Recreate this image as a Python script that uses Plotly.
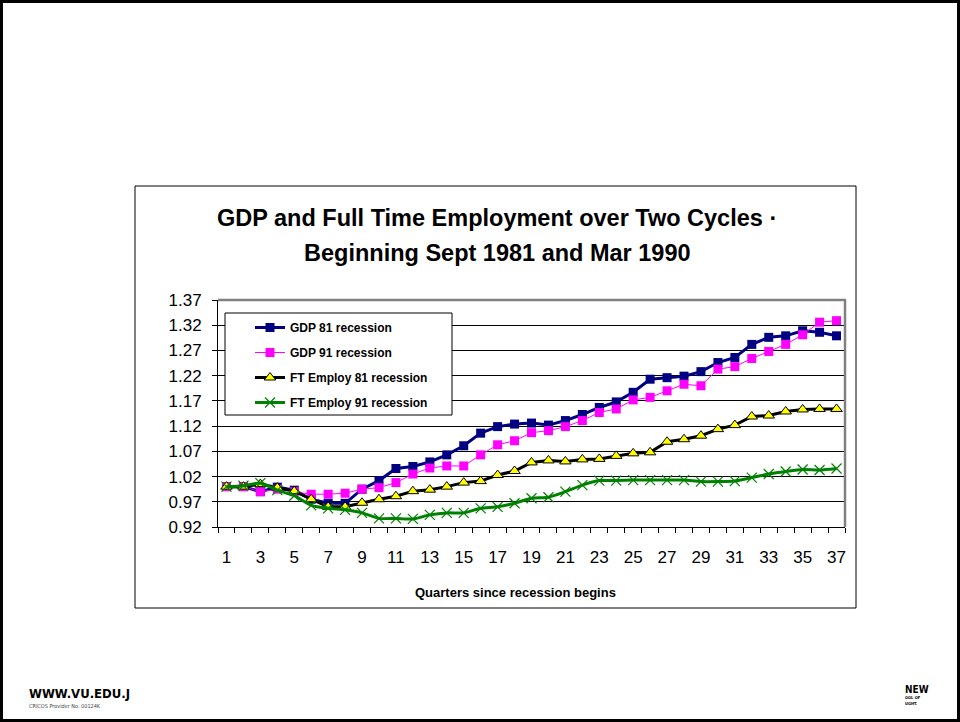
import plotly.graph_objects as go

quarters = list(range(1, 38))
gdp_81 = [1.000, 1.000, 0.990, 0.999, 0.993, 0.975, 0.967, 0.967, 0.995, 1.012,
          1.036, 1.040, 1.049, 1.063, 1.081, 1.106, 1.119, 1.124, 1.126, 1.122,
          1.131, 1.143, 1.157, 1.168, 1.187, 1.213, 1.216, 1.219, 1.228, 1.246,
          1.256, 1.282, 1.296, 1.299, 1.309, 1.306, 1.299]
gdp_91 = [1.000, 1.000, 0.990, 0.995, 0.990, 0.985, 0.985, 0.987, 0.995, 0.998,
          1.008, 1.025, 1.037, 1.041, 1.041, 1.063, 1.083, 1.091, 1.107, 1.111,
          1.119, 1.131, 1.147, 1.154, 1.172, 1.177, 1.190, 1.203, 1.200, 1.233,
          1.238, 1.254, 1.268, 1.282, 1.301, 1.326, 1.329]
ft_81 = [1.000, 1.000, 1.005, 0.998, 0.991, 0.975, 0.960, 0.960, 0.968, 0.975,
         0.981, 0.991, 0.994, 1.000, 1.008, 1.011, 1.023, 1.031, 1.048, 1.052,
         1.050, 1.054, 1.055, 1.061, 1.066, 1.068, 1.089, 1.094, 1.101, 1.114,
         1.122, 1.139, 1.141, 1.149, 1.153, 1.154, 1.154]
ft_91 = [1.000, 1.002, 1.007, 0.993, 0.982, 0.963, 0.957, 0.954, 0.948, 0.937,
         0.937, 0.936, 0.944, 0.948, 0.948, 0.957, 0.960, 0.967, 0.977, 0.979,
         0.990, 1.003, 1.012, 1.012, 1.013, 1.013, 1.013, 1.013, 1.010, 1.010,
         1.011, 1.018, 1.025, 1.030, 1.034, 1.033, 1.036]

x_labels = [str(q) if q % 2 == 1 else "" for q in quarters]
y_ticks = [0.92, 0.97, 1.02, 1.07, 1.12, 1.17, 1.22, 1.27, 1.32, 1.37]

W, H = 960, 722
FONT = "Liberation Sans, Arial, sans-serif"
NARROW = "Liberation Sans Narrow, DejaVu Sans Condensed, sans-serif"


def px(x):
    return x / W


def py_(y):
    return 1 - y / H


def note(text, x, y, size, xanchor="center", family=FONT, bold=True,
         color="black"):
    return dict(text=text, xref="paper", yref="paper", x=px(x), y=py_(y),
                xanchor=xanchor, yanchor="middle", showarrow=False,
                font=dict(size=size, family=family, color=color,
                          weight="bold" if bold else "normal"))


fig = go.Figure()
fig.add_trace(go.Scatter(
    x=quarters, y=gdp_81, name="GDP 81 recession", mode="lines+markers",
    line=dict(color="#000080", width=3),
    marker=dict(symbol="square", size=9, color="#000080"),
    legendgroup="a"))
fig.add_trace(go.Scatter(
    x=quarters, y=gdp_91, name="GDP 91 recession", mode="lines+markers",
    line=dict(color="#FF00FF", width=1),
    marker=dict(symbol="square", size=9, color="#FF00FF"),
    legendgroup="b"))
fig.add_trace(go.Scatter(
    x=quarters, y=ft_81, name="FT Employ 81 recession", mode="lines+markers",
    line=dict(color="black", width=3),
    marker=dict(symbol="triangle-up", size=10, color="#FFFF00",
                line=dict(color="black", width=1)),
    legendgroup="c"))
fig.add_trace(go.Scatter(
    x=quarters, y=ft_91, name="FT Employ 91 recession", mode="lines+markers",
    line=dict(color="#008000", width=3, shape="spline", smoothing=0.6),
    marker=dict(symbol="x-thin", size=10, color="#008000",
                line=dict(color="#008000", width=1.2)),
    legendgroup="d"))

fig.update_layout(
    template="none",
    width=W, height=H, autosize=False,
    margin=dict(l=0, r=0, t=0, b=0, pad=0),
    paper_bgcolor="white", plot_bgcolor="white",
    font=dict(family=FONT, color="black"),
    showlegend=True,
    legend=dict(x=px(250), y=py_(313), xanchor="left", yanchor="top",
                bgcolor="rgba(0,0,0,0)", borderwidth=0,
                font=dict(size=12, family=FONT, color="black", weight="bold"),
                tracegroupgap=6, traceorder="grouped"),
    xaxis=dict(domain=[px(218), px(845)], range=[0.5, 37.5],
               automargin=False,
               tickmode="array", tickvals=quarters, ticktext=x_labels,
               ticks="", showgrid=False, zeroline=False,
               showline=True, linecolor="black", linewidth=1,
               tickfont=dict(size=17), ticklabelstandoff=15,
               minor=dict(tick0=0.5, dtick=1, ticks="outside", ticklen=5,
                          tickcolor="black", showgrid=False)),
    yaxis=dict(domain=[py_(527), py_(300)], range=[0.92, 1.37],
               automargin=False,
               tickmode="array", tickvals=y_ticks,
               ticktext=["%.2f" % v for v in y_ticks],
               ticks="outside", ticklen=5, tickcolor="black",
               showgrid=True, gridcolor="black", gridwidth=1,
               zeroline=False, showline=True, linecolor="black", linewidth=1,
               tickfont=dict(size=17), ticklabelstandoff=7),
    shapes=[
        dict(type="rect", xref="paper", yref="paper",
             x0=px(1.5), x1=px(958.5), y0=py_(720.5), y1=py_(1.5),
             line=dict(color="black", width=3)),
        dict(type="rect", xref="paper", yref="paper",
             x0=px(135), x1=px(856), y0=py_(608), y1=py_(186),
             line=dict(color="black", width=1)),
        dict(type="line", xref="paper", yref="paper",
             x0=px(218), x1=px(846), y0=py_(300), y1=py_(300),
             line=dict(color="#808080", width=2.5)),
        dict(type="line", xref="paper", yref="paper",
             x0=px(845), x1=px(845), y0=py_(300), y1=py_(527),
             line=dict(color="#808080", width=2.5)),
        dict(type="rect", xref="paper", yref="paper",
             x0=px(225), x1=px(452), y0=py_(415), y1=py_(313),
             fillcolor="white", layer="above",
             line=dict(color="black", width=1)),
    ],
    annotations=[
        note("GDP and Full Time Employment over Two Cycles ·", 497, 218, 23.5),
        note("Beginning Sept 1981 and Mar 1990", 497, 253, 23.5),
        note("Quarters since recession begins", 515, 592, 13),
        note("WWW.VU.EDU.J", 27, 693, 13, xanchor="left", family=NARROW),
        note("CRICOS Provider No. 00124K", 27, 706, 5.5, xanchor="left",
             family=NARROW, bold=False, color="#444444"),
        note("NEW", 903, 689, 10, xanchor="left", family=NARROW),
        note("OOL OF", 903, 697, 4, xanchor="left", family=NARROW),
        note("UGHT.", 903, 703, 4, xanchor="left", family=NARROW),
    ],
)

fig.write_html("out.html",
               config={"responsive": False, "displayModeBar": False},
               post_script="document.body.style.margin='0';"
                           "document.body.style.padding='0';"
                           "document.body.style.overflow='hidden';")
